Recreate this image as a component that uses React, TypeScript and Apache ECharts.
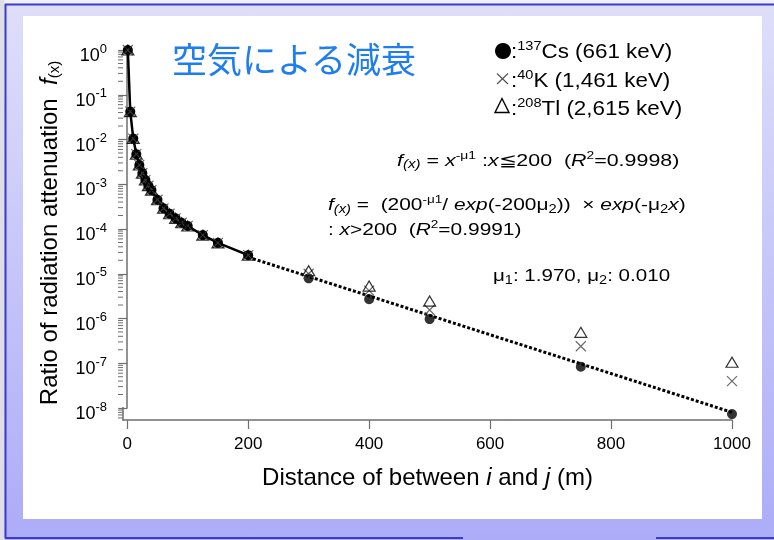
import React, { useEffect, useRef } from "react";
import * as echarts from "echarts";

// ---- data ----
const nearDistance = [1, 5, 10, 15, 20, 25, 30, 35, 40, 50, 60, 70, 80, 90, 100, 125, 150, 200];
const csNear = [1.0, 4.2e-2, 1.05e-2, 4.7e-3, 2.7e-3, 1.76e-3, 1.24e-3, 9.3e-4, 7.4e-4, 4.5e-4, 2.9e-4, 2.2e-4, 1.73e-4, 1.38e-4, 1.17e-4, 7.3e-5, 4.9e-5, 2.6e-5];
const kNear = [1.0, 4.2e-2, 1.05e-2, 4.7e-3, 2.7e-3, 1.76e-3, 1.24e-3, 9.3e-4, 7.4e-4, 4.5e-4, 2.9e-4, 2.2e-4, 1.73e-4, 1.38e-4, 1.17e-4, 7.3e-5, 4.9e-5, 2.6e-5];
const tlNear = [1.0, 4.2e-2, 1.05e-2, 4.7e-3, 2.7e-3, 1.76e-3, 1.24e-3, 9.3e-4, 7.4e-4, 4.5e-4, 2.9e-4, 2.2e-4, 1.73e-4, 1.38e-4, 1.17e-4, 7.3e-5, 4.9e-5, 2.6e-5];

const farDistance = [300, 400, 500, 750, 1000];
const csFar = [7.9e-6, 2.7e-6, 9.7e-7, 8.4e-8, 7.3e-9];
const kFar = [1.0e-5, 4.2e-6, 1.55e-6, 2.4e-7, 4.0e-8];
const tlFar = [1.17e-5, 5.3e-6, 2.45e-6, 4.9e-7, 1.05e-7];

const fitDistance = [200, 1000];
const fitValue = [2.35e-5, 8.0e-9];

// log-axis minor tick positions (2..9 × each decade)
const minorMultipliers = [2, 3, 4, 5, 6, 7, 8, 9];
const minorDecades = [1e-9, 1e-8, 1e-7, 1e-6, 1e-5, 1e-4, 1e-3, 1e-2, 1e-1];

const FONT = "'Liberation Sans', Arial, Helvetica, sans-serif";
const AXIS = "#6e6e6e";
const X_MIN = -7;

const pairs = (xs: number[], ys: number[]) => xs.map((x, i) => [x, ys[i]]);

const yMinorTicks: number[] = [];
minorDecades.forEach((d) =>
  minorMultipliers.forEach((m) => {
    const v = m * d;
    if (v >= 5.5e-9 && v < 1) yMinorTicks.push(v);
  })
);

const baseTxt = { fontFamily: FONT, fontSize: 17, color: "#000" };
const formulaRich: any = {
  t: { ...baseTxt },
  i: { ...baseTxt, fontStyle: "italic" },
  sup: { ...baseTxt, fontSize: 11, padding: [0, 0, 9, 0] },
  sub: { ...baseTxt, fontSize: 12, padding: [9, 0, 0, 0] },
  subi: { ...baseTxt, fontSize: 12, fontStyle: "italic", padding: [9, 0, 0, 0] },
};
const legendRich: any = {
  t: { fontFamily: FONT, fontSize: 20, color: "#000" },
  sup: { fontFamily: FONT, fontSize: 13, color: "#000", padding: [0, 0, 10, 0] },
};

export default function App() {
  const ref = useRef<HTMLDivElement>(null);
  useEffect(() => {
    if (!ref.current) return;
    const chart = echarts.init(ref.current, undefined, { renderer: "svg" });
    const txt = (x: number, y: number, text: string, rich: any, scaleX: number) => ({
      type: "text",
      x,
      y,
      scaleX,
      z: 50,
      style: { text, rich, align: "left", verticalAlign: "middle", fill: "#000", fontFamily: FONT, fontSize: 17 },
    });
    const option: any = {
      animation: false,
      textStyle: { fontFamily: FONT },
      grid: { left: 123, right: 42, top: 50, bottom: 132, containLabel: false },
      xAxis: {
        type: "value",
        min: X_MIN,
        max: 1000,
        offset: 12,
        axisLine: { show: true, onZero: false, lineStyle: { color: AXIS, width: 1.5 } },
        axisTick: { show: true, length: 9, lineStyle: { color: AXIS, width: 1.2 } },
        axisLabel: {
          margin: 15,
          fontSize: 17,
          color: "#000",
          fontFamily: FONT,
          showMinLabel: false,
          formatter: (v: number) => (v % 200 === 0 && v >= 0 ? String(v) : ""),
        },
        splitLine: { show: false },
        name: "Distance of between {it|i} and {it|j} (m)",
        nameLocation: "middle",
        nameGap: 44,
        nameTextStyle: {
          fontSize: 24,
          color: "#000",
          fontFamily: FONT,
          rich: { it: { fontSize: 24, fontStyle: "italic", color: "#000", fontFamily: FONT } },
        },
      },
      yAxis: {
        type: "log",
        logBase: 10,
        min: 1e-8,
        max: 1,
        axisLine: { show: true, lineStyle: { color: AXIS, width: 1.5 } },
        axisTick: { show: true, length: 9, lineStyle: { color: AXIS, width: 1.2 } },
        minorTick: { show: false },
        axisLabel: {
          margin: 16,
          color: "#000",
          formatter: (v: number) => {
            const e = Math.round(Math.log10(v));
            return `{b|10}{e|${e}}`;
          },
          rich: {
            b: { fontSize: 18, fontFamily: FONT, color: "#000", padding: [10, 0, 0, 0] },
            e: { fontSize: 13, fontFamily: FONT, color: "#000", padding: [0, 0, 4, 0] },
          },
        },
        splitLine: { show: false },
        minorSplitLine: { show: false },
        name: "{t|Ratio of radiation attenuation  }{f|f}{s|(x)}",
        nameLocation: "middle",
        nameRotate: 90,
        nameGap: 62,
        nameTextStyle: {
          rich: {
            t: { fontSize: 24, fontFamily: FONT, color: "#000" },
            f: { fontSize: 24, fontFamily: FONT, fontStyle: "italic", color: "#000" },
            s: { fontSize: 15, fontFamily: FONT, color: "#000", padding: [10, 8, 0, 0] },
          },
        },
      },
      graphic: [
        {
          type: "rect",
          z: -100,
          shape: { x: 0, y: 0, width: 774, height: 540 },
          style: {
            fill: {
              type: "linear", x: 0, y: 0, x2: 0, y2: 1,
              colorStops: [
                { offset: 0, color: "#dfdffa" },
                { offset: 1, color: "#acacf8" },
              ],
            },
          },
        },
        { type: "rect", z: -99, shape: { x: 0, y: 0, width: 774, height: 3.5 }, style: { fill: "#f2f2f6" } },
        { type: "rect", z: -99, shape: { x: 0, y: 0, width: 4.5, height: 540 }, style: { fill: "#dedee4" } },
        { type: "line", z: -98, shape: { x1: 5, y1: 4.5, x2: 774, y2: 4.5 }, style: { stroke: "#3b3bd2", lineWidth: 2 } },
        { type: "line", z: -98, shape: { x1: 5.5, y1: 4, x2: 5.5, y2: 538 }, style: { stroke: "#3b3bd2", lineWidth: 2 } },
        { type: "line", z: -98, shape: { x1: 5, y1: 538, x2: 463, y2: 538 }, style: { stroke: "#3b3bd2", lineWidth: 2 } },
        { type: "line", z: -98, shape: { x1: 656, y1: 538, x2: 774, y2: 538 }, style: { stroke: "#3b3bd2", lineWidth: 2 } },
        { type: "rect", z: -97, shape: { x: 23, y: 16, width: 739, height: 503 }, style: { fill: "#ffffff" } },
        // y-axis line extension to meet the offset x axis
        { type: "line", z: 5, shape: { x1: 123, y1: 407, x2: 123, y2: 420.5 }, style: { stroke: AXIS, lineWidth: 1.5 } },
        // title
        {
          type: "text",
          x: 172,
          y: 57,
          z: 50,
          style: {
            text: "空気による減衰",
            fill: "#1e7ef0",
            fontFamily: "'Noto Sans CJK JP', sans-serif",
            fontSize: 35,
            align: "left",
            verticalAlign: "middle",
          },
        },
        // legend markers
        { type: "circle", z: 50, shape: { cx: 503, cy: 51, r: 8 }, style: { fill: "#000" } },
        { type: "line", z: 50, shape: { x1: 497, y1: 73.5, x2: 508, y2: 84 }, style: { stroke: "#555", lineWidth: 1.2 } },
        { type: "line", z: 50, shape: { x1: 508, y1: 73.5, x2: 497, y2: 84 }, style: { stroke: "#555", lineWidth: 1.2 } },
        { type: "polygon", z: 50, shape: { points: [[502, 98.5], [495, 112.5], [509, 112.5]] }, style: { fill: "none", stroke: "#000", lineWidth: 1.4 } },
        txt(511, 51, "{t|:}{sup|137}{t|Cs (661 keV)}", legendRich, 1.12),
        txt(511, 80, "{t|:}{sup|40}{t|K (1,461 keV)}", legendRich, 1.12),
        txt(511, 108, "{t|:}{sup|208}{t|Tl (2,615 keV)}", legendRich, 1.12),
        // formulas
        txt(397, 160, "{i|f}{subi|(x)}{t| = }{i|x}{sup|-μ1}{t| :}{i|x}{t|≦200  (}{i|R}{sup|2}{t|=0.9998)}", formulaRich, 1.26),
        txt(328, 204, "{i|f}{subi|(x)}{t| =  (200}{sup|-μ1}{t|/ }{i|exp}{t|(-200μ}{sub|2}{t|))  × }{i|exp}{t|(-μ}{sub|2}{i|x}{t|)}", formulaRich, 1.23),
        txt(328, 229, "{t|: }{i|x}{t|>200  (}{i|R}{sup|2}{t|=0.9991)}", formulaRich, 1.23),
        txt(493, 275, "{t|μ}{sub|1}{t|: 1.970, μ}{sub|2}{t|: 0.010}", formulaRich, 1.21),
      ],
      series: [
        {
          name: "yMinorTicks",
          type: "custom",
          coordinateSystem: "cartesian2d",
          data: yMinorTicks.map((v) => [X_MIN, v]),
          clip: false,
          silent: true,
          z: 1,
          renderItem: (_params: any, api: any) => {
            const p = api.coord([api.value(0), api.value(1)]);
            return {
              type: "line",
              shape: { x1: p[0] - 5, y1: p[1], x2: p[0], y2: p[1] },
              style: { stroke: AXIS, lineWidth: 1 },
            };
          },
        },
        {
          name: "fit ≤200",
          type: "line",
          data: pairs(nearDistance, csNear),
          symbol: "circle",
          symbolSize: 10,
          itemStyle: { color: "#000" },
          lineStyle: { color: "#000", width: 2.5 },
          clip: false,
          z: 3,
          silent: true,
        },
        {
          name: "fit >200",
          type: "line",
          data: pairs(fitDistance, fitValue),
          symbol: "none",
          lineStyle: { color: "#000", width: 3, type: [3, 2] },
          clip: false,
          z: 2,
          silent: true,
        },
        {
          name: "137Cs",
          type: "scatter",
          data: pairs(farDistance, csFar),
          symbol: "circle",
          symbolSize: 10,
          itemStyle: { color: "#000" },
          clip: false,
          z: 4,
          silent: true,
        },
        {
          name: "40K",
          type: "scatter",
          data: [...pairs(nearDistance, kNear), ...pairs(farDistance, kFar)],
          symbol: "path://M0,0L10,10M10,0L0,10",
          symbolSize: 10,
          itemStyle: { color: "rgba(0,0,0,0)", borderColor: "#444", borderWidth: 1.2 },
          clip: false,
          z: 5,
          silent: true,
        },
        {
          name: "208Tl",
          type: "scatter",
          data: [...pairs(nearDistance, tlNear), ...pairs(farDistance, tlFar)],
          symbol: "triangle",
          symbolSize: [12, 10],
          itemStyle: { color: "rgba(0,0,0,0)", borderColor: "#000", borderWidth: 1.2 },
          clip: false,
          z: 6,
          silent: true,
        },
      ],
    };
    chart.setOption(option);
    return () => chart.dispose();
  }, []);
  return (
    <div
      ref={ref}
      style={{ position: "fixed", left: 0, top: 0, width: 774, height: 540 }}
    />
  );
}
